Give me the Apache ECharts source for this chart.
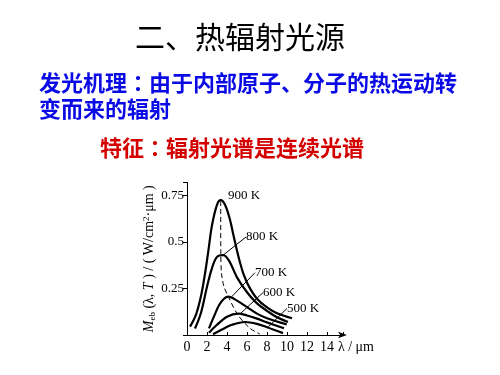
<!DOCTYPE html>
<html><head><meta charset="utf-8">
<script src="https://cdn.jsdelivr.net/npm/echarts@6/dist/echarts.min.js"></script>
<style>html,body{margin:0;padding:0;background:#fff}#c{width:500px;height:375px}</style>
</head><body><div id="c"></div>
<script>
// Titles
const titleText = '二、热辐射光源';
const blueLines = ['发光机理：由于内部原子、分子的热运动转', '变而来的辐射'];
const redText = '特征：辐射光谱是连续光谱';

// Axis ticks
const xTicks = [0, 2, 4, 6, 8, 10, 12, 14];
const yTicks = [0.25, 0.5, 0.75];

// Curves (wavelength in µm, M in W/(cm²·µm))
const lam900 = [0.3, 0.9, 1.4, 1.8, 2.13, 2.5, 3.0, 3.37, 3.8, 4.3, 4.63, 4.97, 5.3, 5.7, 6.2, 7.0, 8.0, 9.0, 10.5];
const m900   = [0.045, 0.11, 0.21, 0.33, 0.45, 0.59, 0.70, 0.725, 0.70, 0.62, 0.54, 0.46, 0.39, 0.32, 0.26, 0.195, 0.148, 0.117, 0.09];
const lam800 = [0.8, 1.4, 2.0, 2.5, 3.0, 3.63, 4.2, 5.0, 6.0, 7.0, 8.0, 9.0, 10.1];
const m800   = [0.035, 0.12, 0.26, 0.36, 0.42, 0.43, 0.40, 0.31, 0.23, 0.17, 0.13, 0.095, 0.07];
const lam700 = [2.2, 2.7, 3.2, 3.7, 4.13, 5.0, 6.0, 7.0, 8.0, 9.97];
const m700   = [0.036, 0.10, 0.16, 0.195, 0.206, 0.185, 0.15, 0.115, 0.09, 0.057];
const lam600 = [2.2, 3.0, 4.0, 5.13, 6.0, 7.0, 8.0, 9.7];
const m600   = [0.012, 0.055, 0.098, 0.115, 0.105, 0.088, 0.068, 0.036];
const lam500 = [2.6, 3.5, 4.5, 5.8, 7.0, 8.0, 9.6];
const m500   = [0.004, 0.03, 0.055, 0.07, 0.06, 0.042, 0.01];
const lamPeak = [3.37, 3.38, 3.45, 3.7, 4.13, 5.1, 6.3, 7.3];
const mPeak   = [0.72, 0.45, 0.33, 0.26, 0.206, 0.107, 0.036, 0.005];

// Label names and leader lines: [fromλ, fromM, toλ, toM]
const tempNames = ['900 K', '800 K', '700 K', '600 K', '500 K'];
const leaders = [null, [3.63, 0.43, 5.9, 0.527], [4.47, 0.206, 6.8, 0.335], [5.3, 0.113, 7.6, 0.228], [8.1, 0.042, 10.0, 0.143]];
const label900At = [4.1, 0.747];

const zip = (a, b) => a.map((v, i) => [v, b[i]]);
const serif = 'Liberation Serif';

const curves = [[lam900, m900], [lam800, m800], [lam700, m700], [lam600, m600], [lam500, m500]];
const series = curves.map((c, i) => {
  const s = {
    type: 'line', data: zip(c[0], c[1]), smooth: 0.35, symbol: 'none',
    lineStyle: {color: '#000', width: 2.2}, silent: true, z: 3
  };
  const L = leaders[i];
  const at = L ? [L[2], L[3]] : label900At;
  if (L) {
    s.markLine = {
      silent: true, symbol: ['none', 'none'], animation: false,
      lineStyle: {color: '#000', width: 1, type: 'solid'},
      label: {show: false},
      data: [[{coord: [L[0], L[1]]}, {coord: [L[2], L[3]]}]]
    };
  }
  s.markPoint = {
    silent: true, symbol: 'circle', symbolSize: 0, animation: false,
    label: {show: true, position: 'right', formatter: tempNames[i], color: '#000', fontFamily: serif, fontSize: 13, distance: 0},
    data: [{coord: at}]
  };
  return s;
});
series.push({
  type: 'line', data: zip(lamPeak, mPeak), smooth: 0.3, symbol: 'none', silent: true,
  lineStyle: {color: '#000', width: 1, type: [5, 3]}, z: 2
});

// Use a font with centred full-width colon
const colonRich = (fill, size) => ({
  c: {fontFamily: 'Noto Sans CJK TC', fontWeight: 'bold', fontSize: size, fill: fill}
});
const withColon = t => t.replace('：', '{c|：}');

const chart = echarts.init(document.getElementById('c'), null, {renderer: 'canvas'});
chart.setOption({
  animation: false,
  backgroundColor: '#fff',
  grid: {left: 187, top: 182.5, width: 156, height: 152.5, containLabel: false},
  xAxis: {
    type: 'value', min: 0, max: 15.6, interval: 2,
    name: 'λ / μm', nameLocation: 'end', nameGap: -8,
    nameTextStyle: {fontFamily: serif, fontSize: 14, color: '#000', align: 'left', verticalAlign: 'top', padding: [5, 0, 0, 0]},
    axisLine: {show: true, symbol: ['none', 'arrow'], symbolSize: [5, 9], symbolOffset: [0, 4], lineStyle: {color: '#000', width: 1}},
    axisTick: {show: true, inside: true, length: 3, lineStyle: {color: '#000'}},
    axisLabel: {color: '#000', fontFamily: serif, fontSize: 14, margin: 5,
      formatter: v => xTicks.includes(v) ? String(v) : ''},
    splitLine: {show: false}
  },
  yAxis: {
    type: 'value', min: 0, max: 0.82, interval: 0.25,
    name: '{i|M}{s|eb} (λ, {i|T} ) / ( W/cm{p|2}·μm )', nameLocation: 'middle', nameRotate: 90, nameGap: 30,
    nameTextStyle: {fontFamily: serif, fontSize: 14, color: '#000',
      rich: {i: {fontFamily: serif, fontSize: 14, fontStyle: 'italic', color: '#000'},
             s: {fontFamily: serif, fontSize: 9, color: '#000', verticalAlign: 'bottom', padding: [6, 0, 0, 0]},
             p: {fontFamily: serif, fontSize: 9, color: '#000', verticalAlign: 'top', padding: [0, 0, 6, 0]}}},
    axisLine: {show: true, lineStyle: {color: '#000', width: 1}},
    axisTick: {show: true, inside: false, length: 4, lineStyle: {color: '#000'}},
    axisLabel: {color: '#000', fontFamily: serif, fontSize: 13, margin: 3,
      formatter: v => yTicks.includes(v) ? String(v) : ''},
    splitLine: {show: false}
  },
  graphic: [
    {type: 'text', left: 135, top: 22, style: {text: titleText, fontFamily: 'Noto Sans CJK SC', fontSize: 30, fill: '#000'}},
    {type: 'text', left: 39, top: 72, style: {text: withColon(blueLines[0]), fontFamily: 'Noto Sans CJK SC', fontWeight: 'bold', fontSize: 22, fill: '#0a0ae6', rich: colonRich('#0a0ae6', 22)}},
    {type: 'text', left: 39, top: 98, style: {text: blueLines[1], fontFamily: 'Noto Sans CJK SC', fontWeight: 'bold', fontSize: 22, fill: '#0a0ae6'}},
    {type: 'text', left: 100, top: 137, style: {text: withColon(redText), fontFamily: 'Noto Sans CJK SC', fontWeight: 'bold', fontSize: 22, fill: '#d40000', rich: colonRich('#d40000', 22)}}
  ],
  series: series
});
</script></body></html>
